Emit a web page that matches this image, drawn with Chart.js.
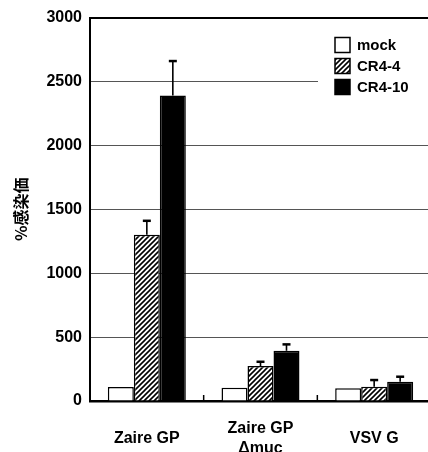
<!DOCTYPE html>
<html><head><meta charset="utf-8">
<script src="https://cdn.jsdelivr.net/npm/chart.js@4/dist/chart.umd.min.js"></script>
<style>
html,body{margin:0;padding:0;overflow:hidden;background:#fff;width:428px;height:452px}
#wrap{position:absolute;left:0;top:0;width:440px;height:480px}
</style>
</head><body><div id="wrap"><canvas id="c" width="440" height="480"></canvas></div>
<script>
const categories = ['Zaire GP', ['Zaire GP', 'Δmuc'], 'VSV G'];
const seriesNames = ['mock', 'CR4-4', 'CR4-10'];
const mockValues = [110, 104, 100];
const cr44Values = [1300, 274, 112];
const cr410Values = [2390, 393, 151];
const mockErrors = [0, 0, 0];
const cr44Errors = [110, 33, 52];
const cr410Errors = [270, 50, 39];
const yTicks = [0, 500, 1000, 1500, 2000, 2500, 3000];
const yTitle = '%感染価';

const FONT = "'Liberation Sans', Arial, sans-serif";
const canvas = document.getElementById('c');
const mainCtx = canvas.getContext('2d');

function makeHatch() {
  const s = 5;
  const c = document.createElement('canvas');
  c.width = s; c.height = s;
  const g = c.getContext('2d');
  g.fillStyle = '#fff'; g.fillRect(0, 0, s, s);
  g.strokeStyle = '#000'; g.lineWidth = 1.6; g.lineCap = 'square';
  g.beginPath();
  g.moveTo(-1, s + 1); g.lineTo(s + 1, -1);
  g.moveTo(-1, 1); g.lineTo(1, -1);
  g.moveTo(s - 1, s + 1); g.lineTo(s + 1, s - 1);
  g.stroke();
  return mainCtx.createPattern(c, 'repeat');
}
const hatch = makeHatch();

const errorBars = {
  id: 'errorBars',
  afterDatasetsDraw(chart) {
    const ctx = chart.ctx, y = chart.scales.y;
    chart.data.datasets.forEach((ds, di) => {
      const meta = chart.getDatasetMeta(di);
      meta.data.forEach((bar, i) => {
        const e = ds.errors[i];
        if (!e) return;
        const top = y.getPixelForValue(ds.data[i] + e);
        ctx.save();
        ctx.strokeStyle = '#000';
        ctx.lineWidth = 1.6;
        ctx.beginPath(); ctx.moveTo(bar.x, bar.y); ctx.lineTo(bar.x, top); ctx.stroke();
        ctx.lineWidth = 2.5;
        ctx.beginPath(); ctx.moveTo(bar.x - 4, top); ctx.lineTo(bar.x + 4, top); ctx.stroke();
        ctx.restore();
      });
    });
  }
};

const separators = {
  id: 'separators',
  afterDraw(chart) {
    const x = chart.scales.x, ctx = chart.ctx, base = chart.chartArea.bottom;
    ctx.save(); ctx.strokeStyle = '#000'; ctx.lineWidth = 1.5;
    for (let i = 0; i < categories.length - 1; i++) {
      const px = (x.getPixelForValue(i) + x.getPixelForValue(i + 1)) / 2;
      ctx.beginPath(); ctx.moveTo(px, base); ctx.lineTo(px, base - 6); ctx.stroke();
    }
    ctx.restore();
  }
};

const boxLegend = {
  id: 'boxLegend',
  afterDraw(chart) {
    const ctx = chart.ctx;
    ctx.save();
    ctx.fillStyle = '#fff';
    ctx.fillRect(318, 30, 112, 70);
    chart.data.datasets.forEach((ds, i) => {
      const cy = 45 + i * 21;
      const bx = 335, size = 15;
      ctx.fillStyle = ds.backgroundColor;
      ctx.fillRect(bx, cy - size / 2, size, size);
      ctx.strokeStyle = '#000'; ctx.lineWidth = 1.5;
      ctx.strokeRect(bx, cy - size / 2, size, size);
      ctx.fillStyle = '#000';
      ctx.font = 'bold 15px ' + FONT;
      ctx.textBaseline = 'middle'; ctx.textAlign = 'left';
      ctx.fillText(ds.label, 357, cy + 1);
    });
    ctx.restore();
  }
};

const ds = (label, data, errors, bg) => ({
  label, data, errors, backgroundColor: bg, borderColor: '#000', borderWidth: 1.5,
  categoryPercentage: 0.686, barPercentage: 1.0
});

new Chart(canvas, {
  type: 'bar',
  data: {
    labels: categories,
    datasets: [
      ds(seriesNames[0], mockValues, mockErrors, '#ffffff'),
      ds(seriesNames[1], cr44Values, cr44Errors, hatch),
      ds(seriesNames[2], cr410Values, cr410Errors, '#000000')
    ]
  },
  options: {
    responsive: false,
    devicePixelRatio: 1,
    animation: false,
    layout: { padding: { top: 16, right: 9, left: 0, bottom: 0 } },
    plugins: { legend: { display: false }, tooltip: { enabled: false } },
    scales: {
      x: {
        grid: { display: false, drawTicks: false },
        border: { display: true, color: '#000', width: 2.5 },
        ticks: { color: '#000', font: { family: FONT, size: 16, weight: 'bold', lineHeight: 1.2 }, padding: 28, crossAlign: 'center', maxRotation: 0 },
        afterFit: s => { s.height = 79; }
      },
      y: {
        min: 0, max: 3000,
        afterBuildTicks: s => { s.ticks = yTicks.map(v => ({ value: v })); },
        grid: {
          drawTicks: false,
          color: c => c.tick && c.tick.value === 3000 ? '#000' : '#555',
          lineWidth: c => c.tick && c.tick.value === 3000 ? 2 : 1
        },
        border: { display: true, color: '#000', width: 2 },
        ticks: { color: '#000', font: { family: FONT, size: 16, weight: 'bold' }, padding: 8, callback: v => String(v) },
        title: { display: true, text: yTitle, color: '#000', font: { family: "'Noto Sans CJK JP', " + FONT, size: 16, weight: 'bold' }, padding: { top: 11, bottom: 0 } },
        afterFit: s => { s.width = 90; }
      }
    }
  },
  plugins: [errorBars, separators, boxLegend]
});
</script>
</body></html>
